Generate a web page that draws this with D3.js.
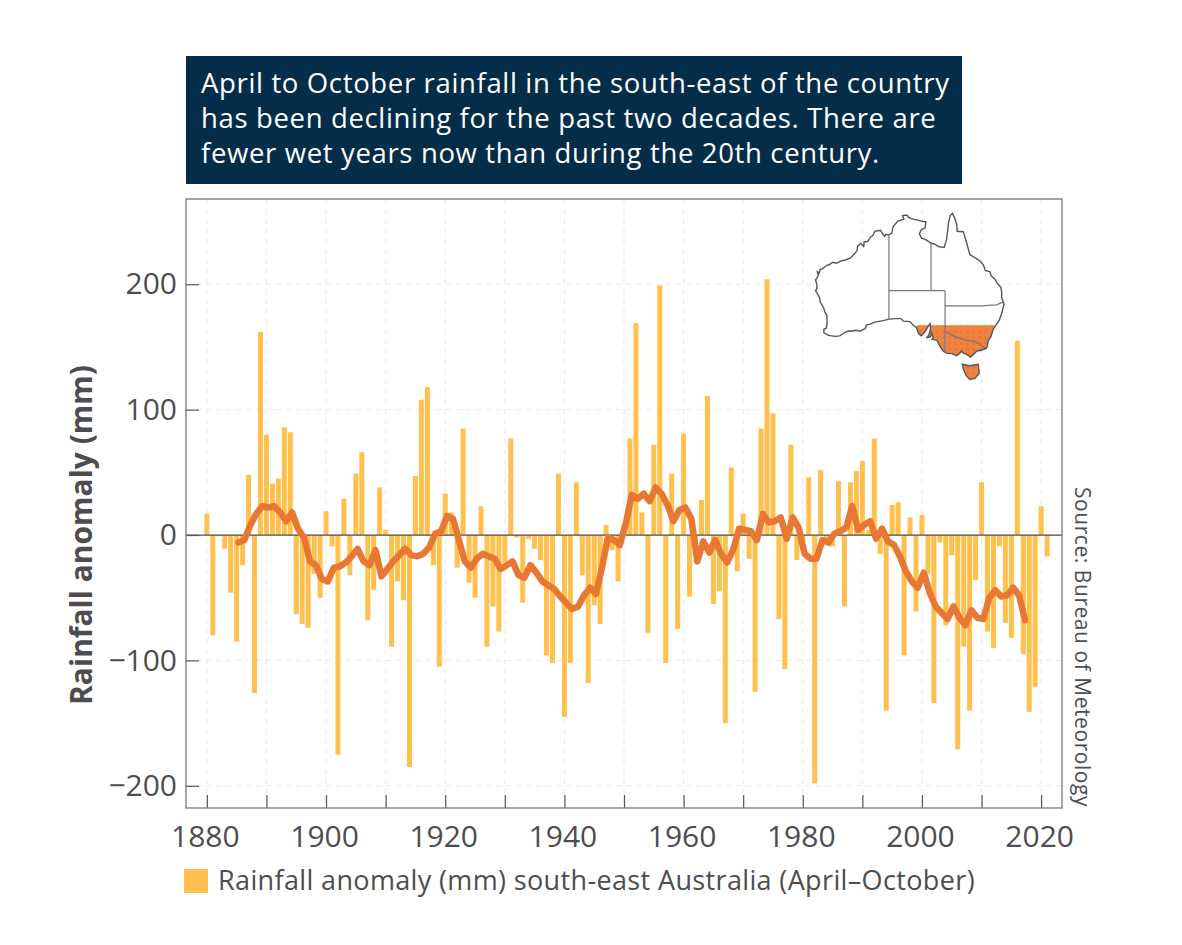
<!DOCTYPE html>
<html>
<head>
<meta charset="utf-8">
<title>Rainfall anomaly south-east Australia</title>
<script src="https://d3js.org/d3.v7.min.js"></script>
<style>
  body { margin: 0; background: #fff; }
  text { font-family: "Open Sans", "Lato", sans-serif; fill: #4d4d4f; }
</style>
</head>
<body>
<script>
var w = 1182, h = 945;

var titleLines = [
  "April to October rainfall in the south-east of the country",
  "has been declining for the past two decades. There are",
  "fewer wet years now than during the 20th century."
];

// April-October anomaly in mm, one value per year from 1880
var barStart = 1880;
var rainfall = [
  17, -80, -1, -11, -46, -85, -24, 48, -126, 162,
  80, 41, 45, 86, 82, -63, -71, -74, -31, -50,
  19, -9, -175, 29, -32, 49, 66, -68, -44, 38,
  4, -89, -37, -52, -185, 47, 108, 118, -24, -105,
  33, 18, -26, 85, -38, -50, 23, -89, -57, -77,
  -22, 77, -2, -54, -3, -11, -20, -96, -102, 49,
  -145, -102, 42, -32, -118, -56, -71, 8, -12, -37,
  8, 77, 169, 18, -78, 72, 199, -102, 49, -75,
  81, -49, -15, 28, 111, -55, -45, -150, 54, -29,
  17, -19, -125, 85, 204, 97, -67, -107, 72, -20,
  -5, 46, -198, 52, -5, -9, 43, -57, 42, 51,
  59, 4, 77, -15, -140, 24, 26, -96, 14, -61,
  16, -31, -134, -6, -72, -16, -171, -89, -140, -36,
  42, -77, -90, -9, -70, -82, 155, -95, -141, -121,
  23, -17
];

// rolling average, one value per year from 1885
var lineStart = 1885;
var rolling = [
  -6, -4, 8, 17, 23,
  22, 23, 18, 11, 18, 5, -2, -21, -24, -35,
  -37, -26, -25, -22, -17, -11, -21, -24, -12, -33,
  -27, -21, -16, -11, -16, -17, -15, -10, 1, 3,
  15, 13, -4, -21, -26, -19, -15, -17, -19, -27,
  -24, -21, -32, -34, -24, -30, -37, -40, -43, -49,
  -54, -59, -57, -48, -42, -47, -26, -2, -4, -8,
  9, 32, 29, 33, 27, 38, 33, 24, 11, 20,
  22, 13, -21, -5, -14, -4, -15, -22, -12, 5,
  4, 3, -4, 17, 10, 11, 14, -3, 14, 6,
  -15, -19, -19, -4, -6, 1, 3, 6, 23, 4,
  8, 11, -3, 5, -5, -8, -17, -29, -37, -42,
  -30, -46, -57, -62, -67, -57, -66, -72, -60, -66,
  -67, -50, -44, -49, -48, -42, -48, -68
];

var xTicks = [1880, 1890, 1900, 1910, 1920, 1930, 1940, 1950, 1960, 1970, 1980, 1990, 2000, 2010, 2020];
var yTicks = [-200, -100, 0, 100, 200];

// map outlines, lon/lat
var mainland = [
  [129,-15],[128.3,-14.9],[128.1,-15.3],[127.7,-14.9],[127.2,-14.1],[126.6,-14.2],[126,-14.3],[125.6,-15.1],
  [125,-15.5],[124.5,-16.3],[123.7,-16.4],[123.6,-17.3],[123,-16.7],[122.3,-17.2],[122.2,-18.1],[121.6,-18.8],
  [120.7,-19.6],[119.5,-20],[118.9,-20.1],[117.8,-20.6],[117,-20.4],[116.2,-20.9],[115.7,-21],[114.8,-21.7],
  [114.3,-21.8],[114.1,-22.5],[113.7,-22.3],[113.9,-22.9],[113.7,-23.4],[113.3,-23.9],[113.6,-24.8],[113.6,-25.6],
  [113.3,-26],[113.9,-26.9],[114.2,-27.5],[114.3,-28.2],[114.8,-29],[115.1,-29.5],[115.3,-30.2],[115.7,-30.8],
  [115.8,-32.4],[115.6,-33.4],[115.1,-33.6],[115.1,-34.3],[116.1,-34.8],[117.5,-35],[118.5,-34.9],[119.6,-34.2],
  [120.5,-33.9],[121,-34],[122,-33.8],[122.8,-34],[123.9,-33.5],[124.2,-32.8],[125,-32.6],[126,-32.2],
  [127.8,-31.9],[129,-31.6],[130.7,-31.5],[131.5,-31.5],[132.1,-32],[133.5,-32.1],[134.2,-32.8],[134.9,-33.3],
  [135.3,-34.4],[135.9,-34.9],[136.7,-34.1],[137.4,-33],[137.8,-32.5],[137.9,-33.6],[137.4,-35],[137,-35.3],
  [137.9,-35.1],[138.1,-34.3],[138.5,-35.2],[138.2,-35.6],[139.3,-35.8],[139.8,-36.8],[140.3,-37.5],[140.7,-38],
  [141.3,-38.3],[142.4,-38.4],[143.5,-38.8],[144.2,-38.3],[144.5,-37.9],[144.9,-38.3],[145.3,-38.4],[146,-38.8],
  [146.4,-39.1],[146.9,-38.7],[147.8,-37.9],[148.5,-37.8],[149.5,-37.5],[150,-37.1],[150.2,-36],[150.8,-35],
  [151.3,-33.6],[152,-32.6],[152.6,-31.8],[153.1,-30.5],[153.6,-28.7],[153.1,-27.4],[153.1,-26.2],[152.9,-25.3],
  [152.2,-24.6],[151.7,-23.8],[150.8,-23],[150.6,-22.3],[149.6,-22],[149.2,-20.9],[148.4,-20.1],[147.7,-19.7],
  [146.3,-18.9],[146,-17.9],[145.6,-16.5],[145.2,-15.3],[144.9,-14.4],[143.6,-14.3],[143.5,-13],[143.1,-11.8],
  [142.6,-10.8],[142.1,-11.2],[141.7,-12.8],[141.6,-14],[141.3,-16],[140.8,-17.5],[139.6,-17.3],[138.7,-16.8],
  [137.9,-16.6],[136.8,-15.9],[136,-15.7],[135.5,-14.8],[136,-13.9],[136.7,-13.7],[136.9,-12.4],[136.2,-12.4],
  [135.6,-12.2],[134.2,-11.9],[133.3,-11.6],[132.8,-11.1],[131.9,-11.2],[132.2,-11.9],[130.9,-12.3],[130.4,-12.8],
  [129.9,-13.4],[129.6,-14.7]
];
var tasmania = [
  [144.7,-40.5],[146.3,-40.8],[148.1,-40.5],[148.3,-42.3],[147.4,-43.3],[146.3,-43.5],[145.5,-42.7],[144.9,-41.4]
];
var stateBorders = [
  [[129,-15],[129,-31.6]],
  [[138,-16.5],[138,-26]],
  [[129,-26],[141,-26]],
  [[141,-26],[141,-38.1]],
  [[141,-29],[149,-29],[150.2,-28.9],[152,-28.8],[153.5,-28.2]],
  [[141,-34],[143,-35],[145.6,-35.8],[147.4,-36],[149.9,-37.5]]
];
var regionBox = [[134.9,-32.8],[155,-32.8],[155,-45],[134.9,-45]];

var container = d3.select("body")
  .append("svg")
  .attr("width", w)
  .attr("height", h)
  .style("display", "block");

// title box
container.append("rect")
  .attr("x", 186)
  .attr("y", 56)
  .attr("width", 776)
  .attr("height", 128)
  .style("fill", "#032d49");

container.selectAll(".titleLine")
  .data(titleLines)
  .enter()
  .append("text")
  .attr("class", "titleLine")
  .attr("x", 201)
  .attr("y", function(d, i){
      return 93 + i * 35;
  })
  .style("font-size", "27.5px")
  .style("letter-spacing", "0.65px")
  .style("fill", "#ffffff")
  .text(function(d){
      return d;
  });

var x = d3.scaleLinear()
  .domain([1876.5, 2023.5])
  .range([186, 1062]);

var y = d3.scaleLinear()
  .domain([-217.7, 268])
  .range([808, 199]);

// gridlines
container.selectAll(".gridX")
  .data(xTicks)
  .enter()
  .append("line")
  .attr("class", "gridX")
  .attr("x1", function(d){ return x(d); })
  .attr("x2", function(d){ return x(d); })
  .attr("y1", 199)
  .attr("y2", 808)
  .style("stroke", "#e9e9e9")
  .style("stroke-dasharray", "5,5");

container.selectAll(".gridY")
  .data(yTicks)
  .enter()
  .append("line")
  .attr("class", "gridY")
  .attr("x1", 186)
  .attr("x2", 1062)
  .attr("y1", function(d){ return y(d); })
  .attr("y2", function(d){ return y(d); })
  .style("stroke", "#e9e9e9")
  .style("stroke-dasharray", "5,5");

// map inset
var lon = d3.scaleLinear().domain([113.2, 153.6]).range([815, 1004]);
var lat = d3.scaleLinear().domain([-10.7, -43.6]).range([213, 380]);
var mapLine = d3.line()
  .x(function(d){ return lon(d[0]); })
  .y(function(d){ return lat(d[1]); });

var defs = container.append("defs");
var hatch = defs.append("pattern")
  .attr("id", "hatch")
  .attr("width", 6)
  .attr("height", 6)
  .attr("patternUnits", "userSpaceOnUse");
hatch.append("rect")
  .attr("width", 6)
  .attr("height", 6)
  .style("fill", "#ee8240");
hatch.append("rect")
  .attr("width", 3)
  .attr("height", 3)
  .style("fill", "#e97a35");

defs.append("clipPath")
  .attr("id", "regionClip")
  .append("path")
  .attr("d", mapLine(regionBox) + "Z");

var map = container.append("g").attr("class", "map");

map.selectAll(".land")
  .data([mainland, tasmania])
  .enter()
  .append("path")
  .attr("class", "land")
  .attr("d", function(d){ return mapLine(d) + "Z"; })
  .style("fill", "#ffffff");

map.append("g")
  .attr("clip-path", "url(#regionClip)")
  .selectAll(".region")
  .data([mainland, tasmania])
  .enter()
  .append("path")
  .attr("class", "region")
  .attr("d", function(d){ return mapLine(d) + "Z"; })
  .style("fill", "url(#hatch)");

map.selectAll(".border")
  .data(stateBorders)
  .enter()
  .append("path")
  .attr("class", "border")
  .attr("d", mapLine)
  .style("fill", "none")
  .style("stroke", "#77777b")
  .style("stroke-width", 1.2);

map.selectAll(".coast")
  .data([mainland, tasmania])
  .enter()
  .append("path")
  .attr("class", "coast")
  .attr("d", function(d){ return mapLine(d) + "Z"; })
  .style("fill", "none")
  .style("stroke", "#55565a")
  .style("stroke-width", 1.4);

// bars
container.selectAll(".bar")
  .data(rainfall)
  .enter()
  .append("rect")
  .attr("class", "bar")
  .attr("x", function(d, i){
      return x(barStart + i) - 2.5;
  })
  .attr("width", 5)
  .attr("y", function(d){
      return y(Math.max(d, 0));
  })
  .attr("height", function(d){
      return Math.abs(y(d) - y(0));
  })
  .style("fill", "#ffc04d");

// zero line
container.append("line")
  .attr("x1", 186)
  .attr("x2", 1062)
  .attr("y1", y(0))
  .attr("y2", y(0))
  .style("stroke", "#4d4d4f")
  .style("stroke-width", 1.3);

// rolling average, drawn a third of a year to the right like the original
var avgLine = d3.line()
  .x(function(d, i){ return x(lineStart + i + 0.3); })
  .y(function(d){ return y(d); });

container.append("path")
  .attr("d", avgLine(rolling))
  .style("fill", "none")
  .style("stroke", "#e87733")
  .style("stroke-width", 6.5)
  .style("stroke-linejoin", "round")
  .style("stroke-linecap", "round");

// axes, ticks point into the plot
var xAxis = d3.axisBottom(x)
  .tickValues(xTicks)
  .tickSizeInner(-13)
  .tickSizeOuter(0)
  .tickPadding(18)
  .tickFormat(function(d){
      return d % 20 == 0 ? d : "";
  });

var yAxis = d3.axisLeft(y)
  .tickValues(yTicks)
  .tickSizeInner(-13)
  .tickSizeOuter(0)
  .tickPadding(9);

var xG = container.append("g")
  .attr("transform", "translate(0,808)")
  .call(xAxis);

var yG = container.append("g")
  .attr("transform", "translate(186,0)")
  .call(yAxis);

xG.selectAll("text").attr("dx", -2).style("font-size", "30px");
yG.selectAll("text").style("font-size", "30px");
container.selectAll(".tick line").style("stroke", "#55565a").style("stroke-width", 1.2);
container.selectAll(".domain").style("display", "none");

// frame
container.append("rect")
  .attr("x", 186)
  .attr("y", 199)
  .attr("width", 876)
  .attr("height", 609)
  .style("fill", "none")
  .style("stroke", "#77777b")
  .style("stroke-width", 1.3);

// axis title
container.append("text")
  .attr("transform", "translate(92,535) rotate(-90)")
  .attr("text-anchor", "middle")
  .style("font-size", "30px")
  .style("font-weight", "bold")
  .text("Rainfall anomaly (mm)");

// source
container.append("text")
  .attr("transform", "translate(1075,487) rotate(90)")
  .style("font-size", "21px")
  .style("letter-spacing", "0.55px")
  .text("Source: Bureau of Meteorology");

// legend
container.append("rect")
  .attr("x", 184)
  .attr("y", 869)
  .attr("width", 24)
  .attr("height", 24)
  .style("fill", "#ffc04d");

container.append("text")
  .attr("x", 218)
  .attr("y", 890)
  .style("font-size", "27px")
  .style("letter-spacing", "0.36px")
  .text("Rainfall anomaly (mm) south-east Australia (April–October)");
</script>
</body>
</html>
